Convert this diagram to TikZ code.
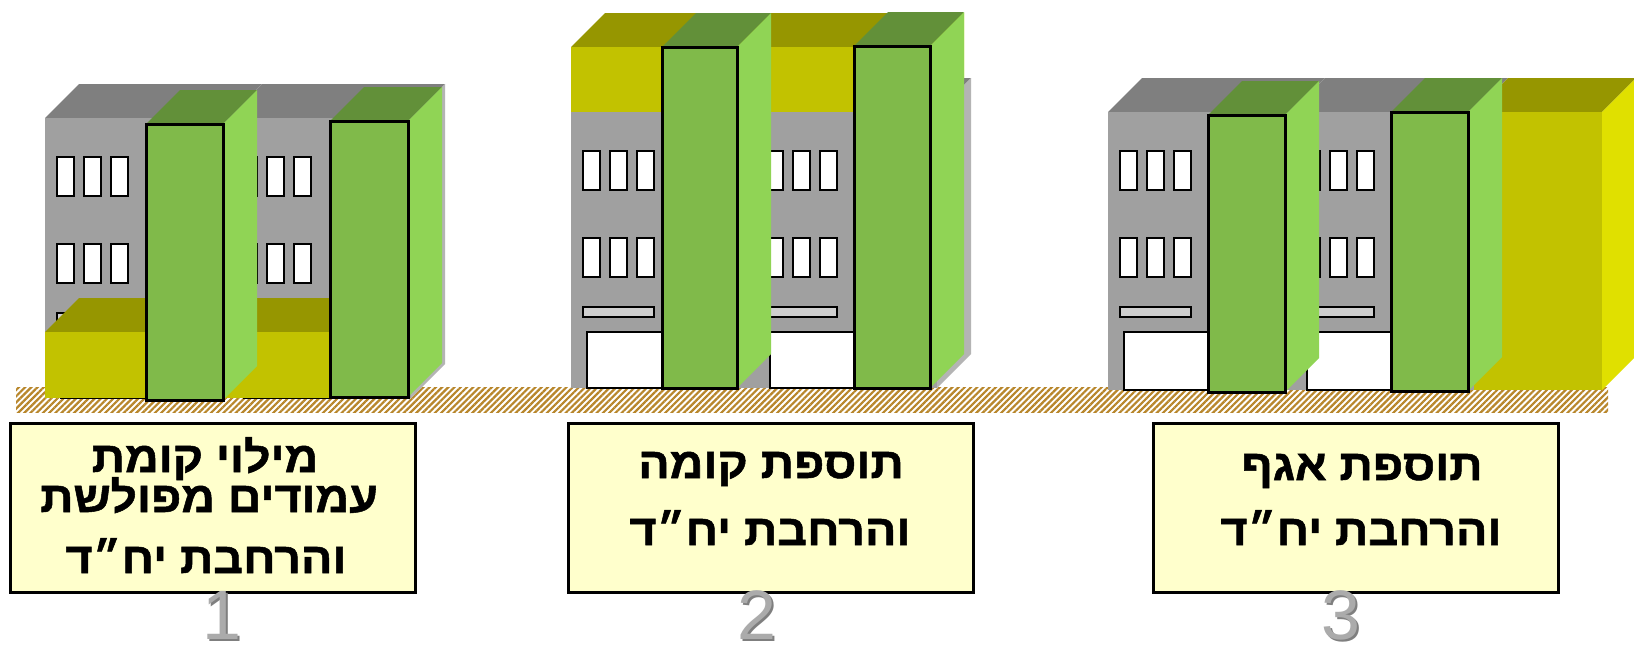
\documentclass[tikz,border=0pt]{standalone}
\usepackage{fontspec}
\usepackage{tikz}
\usetikzlibrary{patterns.meta, positioning}
\setmainfont{Liberation Sans}
\newfontfamily\hebfont[Script=Hebrew, FakeStretch=1.08, FakeBold=1.2]{Liberation Sans}
\TeXXeTstate=1
\definecolor{afor}{HTML}{A0A0A0}
\definecolor{aforkehe}{HTML}{7F7F7F}
\definecolor{aforbahir}{HTML}{B4B4B4}
\definecolor{yarok}{HTML}{80BA4A}
\definecolor{yarokkehe}{HTML}{629039}
\definecolor{yarokbahir}{HTML}{90D455}
\definecolor{tsahov}{HTML}{C2C200}
\definecolor{tsahovkehe}{HTML}{969600}
\definecolor{tsahovbahir}{HTML}{E0E000}
\definecolor{hum}{HTML}{B8862B}
\definecolor{krem}{HTML}{FFFFCC}
\definecolor{sifrabahir}{HTML}{ABABAB}
\tikzstyle{halon} = [fill=white, draw=black, line width=1.1pt]
\tikzstyle{halonaroch} = [fill=black!19, draw=black, line width=1.1pt]
\tikzstyle{delet} = [fill=white, draw=black, line width=1.3pt]
\tikzstyle{amudkav} = [draw=black, line width=1.5pt]
\tikzstyle{adama} = [pattern={Lines[angle=45, distance=2.2pt, line width=1.1pt]}, pattern color=hum]
\tikzstyle{petek} = [draw=black, fill=krem, line width=1.5pt, rectangle, inner sep=0pt, minimum width=202.5pt, minimum height=84.5pt]
\tikzstyle{ktav} = [font=\hebfont\bfseries\fontsize{21.5}{25}\selectfont, inner sep=0pt, anchor=base]
\tikzstyle{mispar} = [font=\fontsize{35}{40}\selectfont, inner sep=0pt, anchor=base]
\newcommand{\kubia}[7]{%
	\fill[#6] (#1,#2) -- ++(34,-34) -- ({#3+34},{#2-34}) -- (#3,#2) -- cycle;
	\fill[#7] (#3,#2) -- ++(34,-34) -- ({#3+34},{#4-34}) -- (#3,#4) -- cycle;
	\fill[#5] (#1,#2) rectangle (#3,#4);}
\newcommand{\amud}[4]{%
	\kubia{#1}{#2}{#3}{#4}{yarok}{yarokkehe}{yarokbahir}
	\draw[amudkav] (#1,#2) rectangle (#3,#4);}
\newcommand{\binyan}[3]{%
	\kubia{#1}{#2}{#1+183}{#3}{afor}{aforkehe}{aforbahir}
	\foreach \i in {0,1,2} {
		\draw[halon] ({#1+12+27*\i},{#2+39}) rectangle ++(17,39);
		\draw[halon] ({#1+12+27*\i},{#2+126}) rectangle ++(17,39);
	}
	\draw[halonaroch] ({#1+12},{#2+195}) rectangle ++(71,10);
	\draw[delet] ({#1+16},{#2+220}) rectangle ({#1+120},#3);}

\begin{document}
\begin{tikzpicture}[x=0.5pt, y=-0.5pt]
	\useasboundingbox (0,0) rectangle (1634,655);
	\fill[white] (0,0) rectangle (1634,655);
	\fill[adama] (16,387) rectangle (1608,412);

	\binyan{45}{118}{398}
	\binyan{228}{118}{398}
	\kubia{45}{332}{400}{398}{tsahov}{tsahovkehe}{tsahovbahir}
	\amud{146}{124}{223}{400}
	\amud{330}{121}{408}{397}

	\binyan{571}{112}{388}
	\binyan{754}{112}{388}
	\kubia{571}{47}{930}{112}{tsahov}{tsahovkehe}{tsahovbahir}
	\amud{662}{47}{737}{388}
	\amud{854}{46}{930}{388}

	\binyan{1108}{112}{390}
	\binyan{1291}{112}{390}
	\kubia{1474}{112}{1602}{390}{tsahov}{tsahovkehe}{tsahovbahir}
	\amud{1208}{115}{1285}{392}
	\amud{1391}{112}{1468}{391}

	\node[petek] (petek1) at (212.5,507.5) {};
	\node[petek] (petek2) at (771,507.5) {};
	\node[petek] (petek3) at (1355.5,507.5) {};

	\node[ktav] (shura1a) at (205,472) {\beginR מילוי קומת\endR};
	\node[ktav] (shura1b) at (209,512) {\beginR עמודים מפולשת\endR};
	\node[ktav] (shura1c) at (206,573) {\beginR והרחבת יח״ד\endR};
	\node[ktav] (shura2a) at (771,478) {\beginR תוספת קומה\endR};
	\node[ktav] (shura2b) at (770,545) {\beginR והרחבת יח״ד\endR};
	\node[ktav] (shura3a) at (1362,480) {\beginR תוספת אגף\endR};
	\node[ktav] (shura3b) at (1361,545) {\beginR והרחבת יח״ד\endR};

	\node[mispar, text=aforkehe] (tsel1) at (224,641) {1};
	\node[mispar, text=sifrabahir] (sifra1) at (222,639) {1};
	\node[mispar, text=aforkehe] (tsel2) at (759,641) {2};
	\node[mispar, text=sifrabahir] (sifra2) at (757,639) {2};
	\node[mispar, text=aforkehe] (tsel3) at (1343,641) {3};
	\node[mispar, text=sifrabahir] (sifra3) at (1341,639) {3};
\end{tikzpicture}
\end{document}
